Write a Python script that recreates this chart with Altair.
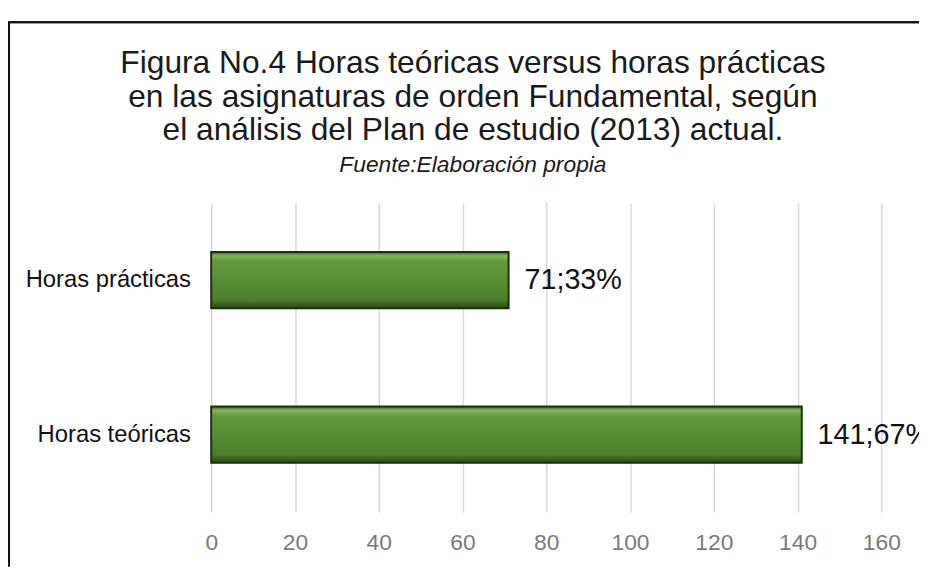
import altair as alt
import pandas as pd

categories = ["Horas prácticas", "Horas teóricas"]
hours = [71, 141]
percents = ["33%", "67%"]
x_ticks = [0, 20, 40, 60, 80, 100, 120, 140, 160]

title_lines = [
    "Figura No.4 Horas teóricas versus horas prácticas",
    "en las asignaturas de orden Fundamental, según",
    "el análisis del Plan de estudio (2013) actual.",
]
subtitle = "Fuente:Elaboración propia"

df = pd.DataFrame({
    "categoria": categories,
    "horas": hours,
    "etiqueta": [f"{h};{p}" for h, p in zip(hours, percents)],
})

FONT = "Liberation Sans"
W, H = 676, 312
PAD_L, PAD_T, PAD_R, PAD_B = 205, 194, 38, 55
BORDER_Y = -182

green = alt.Gradient(
    gradient="linear", x1=0, x2=0, y1=0, y2=1,
    stops=[
        alt.GradientStop(color="#38621f", offset=0),
        alt.GradientStop(color="#86b85e", offset=0.07),
        alt.GradientStop(color="#64993c", offset=0.16),
        alt.GradientStop(color="#588e33", offset=0.5),
        alt.GradientStop(color="#4d7e2b", offset=0.85),
        alt.GradientStop(color="#2a4716", offset=1),
    ],
)

y_enc = alt.Y(
    "categoria:N", sort=categories, title=None,
    scale=alt.Scale(paddingInner=0.636, paddingOuter=0.318),
    axis=alt.Axis(ticks=False, domain=False, labelPadding=21, labelFontSize=24,
                  labelFont=FONT, labelColor="#111111", grid=False),
)
x_enc = alt.X(
    "horas:Q", title=None,
    scale=alt.Scale(domain=[0, 160], nice=False),
    axis=alt.Axis(values=x_ticks, ticks=False, tickSize=0, domain=False, labelPadding=20,
                  labelFlush=False, labelFontSize=23, labelFont=FONT, labelColor="#7a7a7a",
                  grid=True, gridColor="#d9d9d9", gridWidth=1.5),
)

bars = alt.Chart(df).mark_bar(color=green, stroke="#1d2e10", strokeWidth=2).encode(
    x=x_enc, y=y_enc
)

labels = alt.Chart(df).mark_text(
    align="left", baseline="middle", dx=16, fontSize=29, font=FONT, color="#111111"
).encode(x="horas:Q", y=alt.Y("categoria:N", sort=categories), text="etiqueta:N")

top_border = alt.Chart(df).mark_rule(color="#111111", strokeWidth=2).encode(
    x=alt.value(-PAD_L), x2=alt.value(W + PAD_R), y=alt.value(BORDER_Y)
)
left_border = alt.Chart(df).mark_rule(color="#111111", strokeWidth=2).encode(
    x=alt.value(-PAD_L + 1), y=alt.value(BORDER_Y), y2=alt.value(H + PAD_B)
)

chart = alt.layer(bars, labels, top_border, left_border).properties(
    width=W, height=H,
    title=alt.Title(
        text=title_lines, subtitle=subtitle, anchor="middle", dx=-74, offset=-158,
        font=FONT, fontSize=32, fontWeight="normal", color="#1a1a1a", lineHeight=34,
        subtitleFont=FONT, subtitleFontSize=23, subtitleFontStyle="italic",
        subtitleColor="#1a1a1a", subtitlePadding=7,
    ),
    autosize=alt.AutoSizeParams(type="none"),
    padding={"left": PAD_L, "top": PAD_T, "right": PAD_R, "bottom": PAD_B},
    background="white",
).configure_view(stroke=None)

chart.save("out.html", embed_options={"renderer": "svg", "actions": False})
